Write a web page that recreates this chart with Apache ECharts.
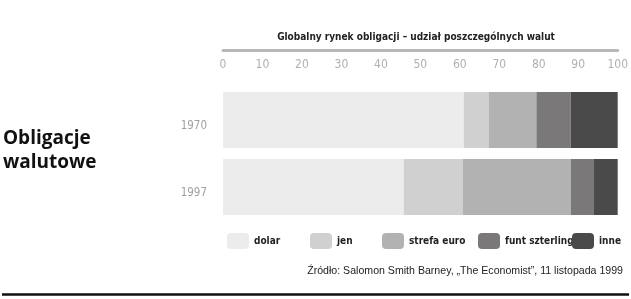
<!DOCTYPE html>
<html><head><meta charset="utf-8">
<script src="https://cdn.jsdelivr.net/npm/echarts@6/dist/echarts.min.js"></script>
<style>html,body{margin:0;padding:0;background:#fff}#c{width:631px;height:299px}</style>
</head><body><div id="c"></div>
<script>
const categories = ['1970', '1997'];
const seriesNames = ['dolar', 'jen', 'strefa euro', 'funt szterling', 'inne'];
const dolar = [61.0, 45.8];
const jen = [6.3, 14.9];
const strefaEuro = [12.1, 27.4];
const funtSzterling = [8.7, 5.9];
const inne = [11.9, 6.0];
const tickValues = [0, 10, 20, 30, 40, 50, 60, 70, 80, 90, 100];

const values = [dolar, jen, strefaEuro, funtSzterling, inne];
const colors = ['#ececec', '#d0d0d0', '#b3b2b2', '#7a7878', '#4a4a4a'];
const cond = "'DejaVu Sans Condensed', sans-serif";
const legendLeft = [227, 310, 382, 478, 572];

const chart = echarts.init(document.getElementById('c'), null, {renderer: 'canvas'});
chart.setOption({
  animation: false,
  backgroundColor: '#fff',
  title: [
    {text: 'Globalny rynek obligacji – udział poszczególnych walut', left: 416, top: 32, textAlign: 'center', padding: 0,
     textStyle: {fontFamily: cond, fontSize: 10, fontWeight: 'bold', color: '#222'}},
    {text: 'Obligacje\nwalutowe', left: 3, top: 127, padding: 0,
     textStyle: {fontFamily: "'Open Sans', 'Noto Sans', sans-serif", fontSize: 19, fontWeight: 'bold', color: '#111', lineHeight: 23.5}},
    {text: 'Źródło: Salomon Smith Barney, „The Economist”, 11 listopada 1999', right: 8, top: 266, padding: 0,
     textStyle: {fontFamily: "'Liberation Sans', sans-serif", fontSize: 10.6, fontWeight: 'normal', color: '#222'}}
  ],
  legend: seriesNames.map((n, i) => ({
    data: [n], left: legendLeft[i], top: 233, itemWidth: 22, itemHeight: 16, icon: 'roundRect', padding: 0,
    selectedMode: false,
    textStyle: {fontFamily: cond, fontSize: 10, fontWeight: 'bold', color: '#222'}
  })),
  grid: {left: 223, right: 11, top: 86.5, bottom: 78.5},
  xAxis: {
    type: 'value', position: 'top', min: 0, max: 100, interval: 10, offset: 36.5,
    axisLine: {show: true, lineStyle: {color: '#b8b8b8', width: 3}},
    axisTick: {show: false}, splitLine: {show: false},
    axisLabel: {inside: true, margin: 9, color: '#b0b0b0', fontFamily: cond, fontSize: 12,
      formatter: v => tickValues.includes(v) ? String(v) : ''}
  },
  yAxis: {
    type: 'category', data: categories, inverse: true,
    axisLine: {show: false}, axisTick: {show: false},
    axisLabel: {margin: 16, color: '#a0a0a0', fontFamily: cond, fontSize: 11.5, verticalAlign: 'top'}
  },
  series: seriesNames.map((n, i) => ({
    name: n, type: 'bar', stack: 'total', barWidth: 56, data: values[i],
    itemStyle: {color: colors[i]}
  })),
  graphic: [
    {type: 'line', shape: {x1: 2, y1: 294.5, x2: 629, y2: 294.5}, style: {stroke: '#111', lineWidth: 2.5}}
  ]
});
</script></body></html>
